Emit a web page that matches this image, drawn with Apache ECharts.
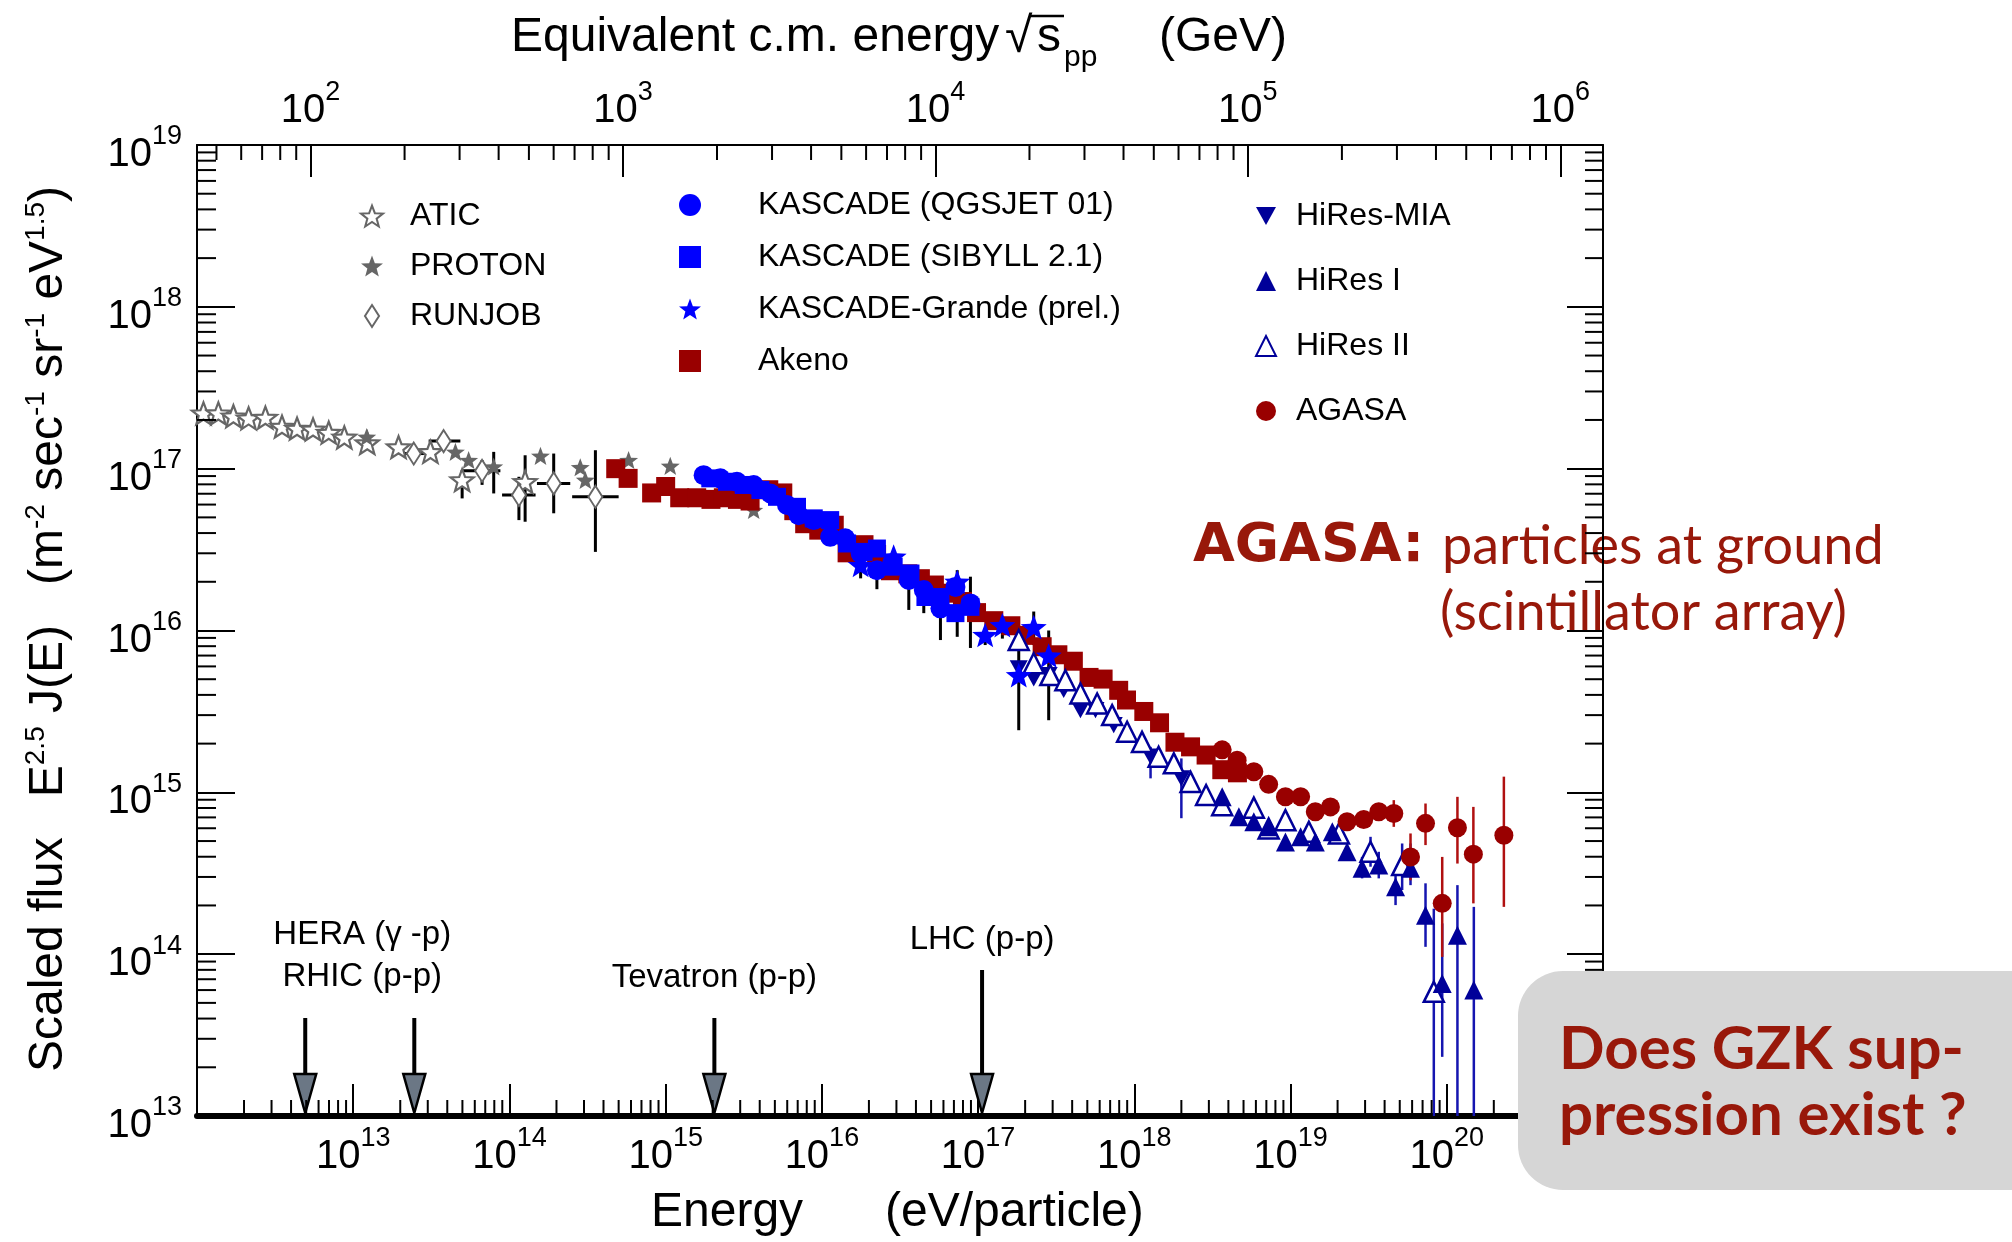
<!DOCTYPE html>
<html><head><meta charset="utf-8">
<script src="https://cdn.jsdelivr.net/npm/echarts@6/dist/echarts.min.js"></script>
<style>html,body{margin:0;padding:0;background:#fff}#c{width:2012px;height:1242px}</style>
</head><body><div id="c"></div>
<script>
// ---------------- data (energy in eV, scaled flux E^2.5 J(E)) ----------------
const atic = [[1.10e12,2.20e17],[1.37e12,2.20e17],[1.71e12,2.11e17],[2.14e12,2.05e17],[2.74e12,2.07e17],[3.50e12,1.82e17],[4.37e12,1.77e17],[5.53e12,1.75e17],[6.97e12,1.67e17],[8.77e12,1.56e17],[1.23e13,1.44e17],[1.95e13,1.36e17],[3.12e13,1.27e17],[4.98e13,8.51e16],[1.26e14,8.30e16]];
const aticErr = [[4.98e13,6.55e16,9.80e16],[1.26e14,4.70e16,1.21e17]];
const proton = [[1.22e13,1.57e17],[4.51e13,1.27e17],[5.48e13,1.13e17],[7.93e13,1.03e17],[1.58e14,1.20e17],[2.84e14,1.02e17],[3.06e14,8.51e16],[5.79e14,1.13e17],[1.07e15,1.04e17],[3.66e15,5.55e16]];
const protonErr = [[7.93e13,7.03e16,1.27e17]];
const runjob = [[2.44e13,1.24e17],[3.79e13,1.48e17],[6.68e13,9.70e16],[1.15e14,6.87e16],[1.92e14,8.11e16],[3.55e14,6.70e16]];
const runjobYErr = [[6.68e13,7.94e16,1.13e17],[1.15e14,4.81e16,8.91e16],[1.92e14,5.30e16,1.24e17],[3.55e14,3.06e16,1.30e17]];
const runjobXErr = [[1.24e17,1.95e13,3.04e13],[1.48e17,3.04e13,4.85e13],[9.70e16,4.98e13,8.75e13],[6.87e16,8.97e13,1.47e14],[8.11e16,1.50e14,2.45e14],[6.70e16,2.52e14,5.00e14]];
const kascadeQGS = [[1.75e15,9.12e16],[2.24e15,8.71e16],[2.86e15,8.30e16],[3.66e15,7.93e16],[4.68e15,7.03e16],[5.98e15,5.96e16],[7.10e15,5.16e16],[8.87e15,4.81e16],[1.13e16,3.79e16],[1.41e16,3.71e16],[1.77e16,2.99e16],[2.25e16,2.36e16],[2.81e16,2.60e16],[3.60e16,2.05e16],[4.49e16,1.78e16],[5.74e16,1.37e16],[7.16e16,1.86e16],[8.93e16,1.47e16]];
const kascadeSIB = [[1.93e15,8.71e16],[2.47e15,8.30e16],[3.16e15,7.93e16],[4.04e15,7.38e16],[5.16e15,6.70e16],[6.93e15,5.81e16],[8.87e15,4.93e16],[1.13e16,4.81e16],[1.45e16,3.45e16],[1.85e16,3.06e16],[2.25e16,3.21e16],[2.88e16,2.48e16],[3.69e16,2.25e16],[4.60e16,1.61e16],[5.74e16,1.61e16],[7.16e16,1.28e16],[8.93e16,1.40e16]];
const kascadeErr = [[2.25e16,1.80e16,2.95e16],[3.60e16,1.34e16,2.54e16],[4.49e16,1.28e16,2.25e16],[5.74e16,8.73e15,1.54e16],[8.93e16,7.80e15,2.15e16]];
const grande = [[1.77e16,2.54e16],[2.88e16,2.86e16],[7.35e16,2.00e16],[1.11e17,9.38e15],[1.43e17,1.08e16],[1.82e17,5.30e15],[2.27e17,1.05e16],[2.83e17,7.00e15]];
const grandeErr = [[1.77e16,2.10e16,2.86e16],[2.88e16,2.11e16,2.92e16],[7.35e16,9.14e15,2.36e16],[1.11e17,8.13e15,9.77e15],[1.43e17,8.91e15,1.20e16],[1.82e17,2.42e15,9.77e15],[2.27e17,8.13e15,1.31e16],[2.83e17,2.79e15,1.00e16]];
const akeno = [[4.79e14,1.00e17],[5.75e14,8.71e16],[8.13e14,7.08e16],[1.00e15,7.76e16],[1.23e15,6.61e16],[1.58e15,6.61e16],[1.95e15,6.46e16],[2.34e15,6.61e16],[2.88e15,6.46e16],[3.47e15,6.31e16],[4.57e15,7.41e16],[5.62e15,7.08e16],[6.61e15,5.50e16],[7.76e15,4.57e16],[9.55e15,4.17e16],[1.20e16,4.47e16],[1.45e16,3.02e16],[1.86e16,3.39e16],[2.24e16,2.95e16],[2.75e16,2.34e16],[3.55e16,2.24e16],[4.27e16,2.09e16],[5.25e16,1.91e16],[6.46e16,1.70e16],[7.94e16,1.51e16],[9.77e16,1.29e16],[1.26e17,1.15e16],[1.62e17,1.07e16],[2.00e17,9.33e15],[2.57e17,7.94e15],[3.24e17,7.08e15],[4.07e17,6.46e15],[5.13e17,5.13e15],[6.31e17,5.01e15],[7.94e17,4.27e15],[8.91e17,3.72e15],[1.15e18,3.16e15],[1.45e18,2.69e15],[1.82e18,2.04e15],[2.29e18,1.91e15],[2.88e18,1.70e15],[3.63e18,1.38e15],[4.57e18,1.32e15]];
const hiresMIA = [[1.82e17,5.83e15],[2.27e17,5.06e15],[2.83e17,5.30e15],[3.53e17,4.29e15],[4.52e17,3.22e15],[5.64e17,3.22e15],[7.38e17,2.60e15],[1.27e18,1.66e15],[2.00e18,1.22e15]];
const hiresMIAErr = [[1.27e18,1.22e15,1.91e15],[2.00e18,6.92e14,1.62e15]];
const hires1 = [[3.65e18,9.40e14],[4.67e18,7.06e14],[5.82e18,6.58e14],[7.24e18,6.12e14],[9.27e18,4.94e14],[1.16e19,5.31e14],[1.44e19,4.94e14],[1.85e19,5.70e14],[2.30e19,4.29e14],[2.87e19,3.39e14],[3.67e19,3.55e14],[4.70e19,2.61e14],[5.86e19,3.39e14],[7.31e19,1.74e14],[9.35e19,6.59e13],[1.17e20,1.31e14],[1.49e20,6.00e13]];
const hires1Err = [[2.87e19,2.94e14,3.99e14],[3.67e19,2.94e14,4.29e14],[4.70e19,2.01e14,3.15e14],[5.86e19,2.67e14,4.83e14],[7.31e19,1.11e14,2.74e14],[9.35e19,2.32e13,1.55e14],[1.17e20,1.0e13,2.67e14],[1.49e20,1.0e13,1.96e14]];
const hires2 = [[1.82e17,8.73e15],[2.27e17,6.27e15],[2.90e17,5.30e15],[3.62e17,4.93e15],[4.52e17,4.08e15],[5.78e17,3.54e15],[7.21e17,3.00e15],[8.99e17,2.37e15],[1.12e18,2.05e15],[1.43e18,1.66e15],[1.79e18,1.51e15],[2.29e18,1.16e15],[2.88e18,9.62e14],[3.65e18,8.32e14],[5.82e18,8.04e14],[7.24e18,5.98e14],[9.27e18,6.73e14],[1.31e19,5.70e14],[2.04e19,5.57e14],[3.25e19,4.29e14],[5.18e19,3.55e14],[8.26e19,5.85e13]];
const hires2Err = [[3.25e19,3.47e14,5.31e14],[5.18e19,2.49e14,4.83e14],[8.26e19,1.0e13,1.91e14]];
const agasa = [[3.65e18,1.83e15],[4.55e18,1.58e15],[5.82e18,1.34e15],[7.24e18,1.12e15],[9.27e18,9.38e14],[1.16e19,9.38e14],[1.44e19,7.59e14],[1.80e19,8.13e14],[2.30e19,6.58e14],[2.94e19,6.79e14],[3.67e19,7.59e14],[4.58e19,7.40e14],[5.86e19,3.99e14],[7.31e19,6.43e14],[9.35e19,2.06e14],[1.17e20,6.04e14],[1.48e20,4.15e14],[2.32e20,5.43e14]];
const agasaErr = [[4.58e19,6.12e14,8.95e14],[5.86e19,2.86e14,5.57e14],[7.31e19,4.72e14,8.53e14],[9.35e19,9.62e13,3.99e14],[1.17e20,3.63e14,9.38e14],[1.48e20,2.06e14,8.13e14],[2.32e20,1.96e14,1.25e15]];
const accelNames = ['HERA (\u03b3 -p)', 'RHIC (p-p)', 'Tevatron (p-p)', 'LHC (p-p)'];
const accelEnergy = [4.93e12, 2.46e13, 2.05e15, 1.06e17];
// ---------------- axis constants ----------------
const E_MIN = 1e12, E_MAX = 1e21, F_MIN = 1e13, F_MAX = 1e19;
const MP = 0.938272; // GeV
const sqrtS = E => Math.sqrt(2 * MP * E / 1e9);

function minorVals(lo, hi) { const out = []; for (let e = Math.floor(Math.log10(lo)); e <= Math.ceil(Math.log10(hi)); e++) for (let m = 2; m <= 9; m++) { const v = m * Math.pow(10, e); if (v > lo && v < hi) out.push(v); } return out; }
const xMinor = minorVals(E_MIN, E_MAX), yMinor = minorVals(F_MIN, F_MAX), topMinor = minorVals(sqrtS(E_MIN), sqrtS(E_MAX));

const SANS = '"Liberation Sans", Arial, sans-serif';
const NARROW = '"Liberation Sans Narrow", "Liberation Sans", sans-serif';
const RED = '#98180a', DRED = '#990000', NAVY = '#000099', BLUE = '#0000ff', GRAY = '#666666';
const STAR = 'path://M50,0 L62.35,33 L97.55,34.55 L69.95,56.5 L79.4,90.45 L50,71 L20.6,90.45 L30.05,56.5 L2.45,34.55 L37.65,33 Z';
const DOWN_TRI = 'path://M0,0 L100,0 L50,90 Z';
const TALL_DIAMOND = 'path://M32,0 L64,50 L32,100 L0,50 Z';

const tickRich = {
  b: { fontSize: 40, fontFamily: NARROW, color: '#000', padding: [20, 0, 0, 0] },
  s: { fontSize: 27, fontFamily: NARROW, color: '#000', padding: [0, 0, 16, 0] }
};
const pow10 = v => '{b|10}{s|' + Math.round(Math.log10(v)) + '}';
const pow10Inner = v => { const e = Math.round(Math.log10(v)); return (e <= 12 || e >= 21) ? '' : pow10(v); };

function tickSeries(data, xIdx, d) {
  return { type: 'custom', coordinateSystem: 'cartesian2d', xAxisIndex: xIdx, yAxisIndex: 0, silent: true, z: 6, data,
    renderItem: (p, api) => { const a = api.coord([api.value(0), api.value(1)]);
      return { type: 'line', shape: { x1: a[0], y1: a[1], x2: a[0] + d[0], y2: a[1] + d[1] }, style: { stroke: '#000', lineWidth: 2 } }; } };
}
function vErr(data, color, w) {
  return { type: 'custom', silent: true, z: 1, data, encode: { x: 0, y: [1, 2] },
    renderItem: (p, api) => { const a = api.coord([api.value(0), api.value(1)]), b = api.coord([api.value(0), api.value(2)]);
      return { type: 'line', shape: { x1: a[0], y1: a[1], x2: b[0], y2: b[1] }, style: { stroke: color, lineWidth: w } }; } };
}
function hErr(data, color, w) {
  return { type: 'custom', silent: true, z: 1, data, encode: { x: [1, 2], y: 0 },
    renderItem: (p, api) => { const a = api.coord([api.value(1), api.value(0)]), b = api.coord([api.value(2), api.value(0)]);
      return { type: 'line', shape: { x1: a[0], y1: a[1], x2: b[0], y2: b[1] }, style: { stroke: color, lineWidth: w } }; } };
}
function sc(name, data, symbol, size, itemStyle, extra) {
  return Object.assign({ name, type: 'scatter', data, symbol, symbolSize: size, symbolKeepAspect: true,
    itemStyle: Object.assign({ opacity: 1 }, itemStyle), z: 3, silent: true }, extra || {});
}
const accelLayout = [
  { shaft: 98, ldx: 57, ldy: -181 },
  { shaft: 98, ldx: -52, ldy: -139 },
  { shaft: 98, ldx: 0, ldy: -138 },
  { shaft: 146, ldx: 0, ldy: -176 }
];
const legendText = pad => ({ fontSize: 32, fontFamily: SANS, color: '#000', padding: [0, 0, 0, pad] });

const option = {
  animation: false,
  backgroundColor: '#fff',
  textStyle: { fontFamily: SANS },
  grid: { left: 197, top: 145, width: 1406, height: 971, containLabel: false },
  xAxis: [
    { type: 'log', logBase: 10, min: E_MIN, max: E_MAX, position: 'bottom',
      axisLine: { onZero: false, lineStyle: { color: '#000', width: 6 } },
      axisTick: { inside: true, length: 32, lineStyle: { color: '#000', width: 2 } },
      axisLabel: { margin: 1, formatter: pow10Inner, rich: tickRich, showMinLabel: false, showMaxLabel: false },
      splitLine: { show: false } },
    { type: 'log', logBase: 10, min: sqrtS(E_MIN), max: sqrtS(E_MAX), position: 'top',
      axisLine: { onZero: false, lineStyle: { color: '#000', width: 2 } },
      axisTick: { inside: true, length: 32, lineStyle: { color: '#000', width: 2 } },
      axisLabel: { margin: 14, formatter: pow10, rich: tickRich, showMinLabel: false, showMaxLabel: false },
      splitLine: { show: false } }
  ],
  yAxis: [
    { type: 'log', logBase: 10, min: F_MIN, max: F_MAX, position: 'left',
      axisLine: { onZero: false, lineStyle: { color: '#000', width: 2 } },
      axisTick: { inside: true, length: 38, lineStyle: { color: '#000', width: 2 } },
      axisLabel: { margin: 15, formatter: pow10, rich: tickRich },
      splitLine: { show: false } },
    { type: 'log', logBase: 10, min: F_MIN, max: F_MAX, position: 'right',
      axisLine: { onZero: false, lineStyle: { color: '#000', width: 2 } },
      axisTick: { inside: true, length: 36, lineStyle: { color: '#000', width: 2 } },
      axisLabel: { show: false }, splitLine: { show: false } }
  ],
  legend: [
    { data: ['ATIC', 'PROTON', { name: 'RUNJOB', icon: TALL_DIAMOND }], orient: 'vertical', left: 360, top: 200, padding: 0,
      itemWidth: 22, itemHeight: 22, itemGap: 18, selectedMode: false, textStyle: legendText(22) },
    { data: ['KASCADE (QGSJET 01)', 'KASCADE (SIBYLL 2.1)', 'KASCADE-Grande (prel.)', 'Akeno'], orient: 'vertical', left: 679, top: 189, padding: 0,
      itemWidth: 22, itemHeight: 22, itemGap: 20, selectedMode: false, textStyle: legendText(52) },
    { data: [{ name: 'HiRes-MIA', icon: DOWN_TRI }, 'HiRes I', 'HiRes II', 'AGASA'], orient: 'vertical', left: 1255, top: 200, padding: 0,
      itemWidth: 20, itemHeight: 20, itemGap: 33, selectedMode: false, textStyle: legendText(15) }
  ],
  series: [
    tickSeries(xMinor.map(v => [v, F_MIN]), 0, [0, -16]),
    tickSeries(topMinor.map(v => [v, F_MAX]), 1, [0, 15]),
    tickSeries(yMinor.map(v => [E_MIN, v]), 0, [19, 0]),
    tickSeries(yMinor.map(v => [E_MAX, v]), 0, [-18, 0]),
    vErr(aticErr, '#000', 3), vErr(protonErr, '#000', 3), vErr(runjobYErr, '#000', 3), hErr(runjobXErr, '#000', 3),
    vErr(kascadeErr, '#000', 3), vErr(grandeErr, '#000', 3),
    vErr(hiresMIAErr, '#1515b0', 2.5), vErr(hires1Err, '#1515b0', 2.5), vErr(hires2Err, '#1515b0', 2.5),
    vErr(agasaErr, '#b01010', 2.5),
    sc('ATIC', atic, STAR, 23, { color: '#fff', borderColor: GRAY, borderWidth: 2.2 }),
    sc('PROTON', proton, STAR, 19, { color: GRAY }),
    sc('RUNJOB', runjob, 'diamond', [14, 22], { color: '#fff', borderColor: GRAY, borderWidth: 2 }, { symbolKeepAspect: false }),
    sc('Akeno', akeno, 'rect', 19, { color: DRED }),
    sc('HiRes-MIA', hiresMIA, DOWN_TRI, 18, { color: NAVY }),
    sc('HiRes II', hires2, 'triangle', 20, { color: '#fff', borderColor: NAVY, borderWidth: 2.5 }),
    sc('HiRes I', hires1, 'triangle', 19, { color: NAVY }),
    sc('AGASA', agasa, 'circle', 19, { color: DRED }),
    sc('KASCADE (SIBYLL 2.1)', kascadeSIB, 'rect', 18, { color: BLUE }),
    sc('KASCADE (QGSJET 01)', kascadeQGS, 'circle', 20, { color: BLUE }),
    sc('KASCADE-Grande (prel.)', grande, STAR, 26, { color: BLUE }),
    { type: 'custom', silent: true, z: 5, data: accelEnergy.map(e => [e, F_MIN]),
      renderItem: (p, api) => {
        const b = api.coord([api.value(0), F_MIN]); const L = accelLayout[p.dataIndex];
        const x = b[0], y = b[1], hh = 42, hw = 11;
        return { type: 'group', children: [
          { type: 'line', shape: { x1: x, y1: y - L.shaft, x2: x, y2: y - hh }, style: { stroke: '#000', lineWidth: 4 } },
          { type: 'polygon', shape: { points: [[x - hw, y - hh], [x + hw, y - hh], [x, y - 3]] }, style: { fill: '#6b7785', stroke: '#000', lineWidth: 2.5 } },
          { type: 'text', x: x + L.ldx, y: y + L.ldy, style: { text: accelNames[p.dataIndex], fill: '#000', fontSize: 33, fontFamily: SANS, align: 'center', verticalAlign: 'middle' } }
        ] };
      } }
  ],
  graphic: [
    { type: 'text', x: 511, y: 38, style: { text: 'Equivalent c.m. energy', fontSize: 48, fontFamily: SANS, fill: '#000', align: 'left', verticalAlign: 'middle' } },
    { type: 'text', x: 1005, y: 38, style: { text: '\u221a', fontSize: 50, fontFamily: SANS, fill: '#000', align: 'left', verticalAlign: 'middle' } },
    { type: 'line', shape: { x1: 1029, y1: 16, x2: 1064, y2: 16 }, style: { stroke: '#000', lineWidth: 2.5 } },
    { type: 'text', x: 1037, y: 38, style: { text: 's', fontSize: 48, fontFamily: SANS, fill: '#000', align: 'left', verticalAlign: 'middle' } },
    { type: 'text', x: 1064, y: 58, style: { text: 'pp', fontSize: 30, fontFamily: SANS, fill: '#000', align: 'left', verticalAlign: 'middle' } },
    { type: 'text', x: 1159, y: 38, style: { text: '(GeV)', fontSize: 48, fontFamily: SANS, fill: '#000', align: 'left', verticalAlign: 'middle' } },
    { type: 'text', x: 651, y: 1213, style: { text: 'Energy', fontSize: 48, fontFamily: SANS, fill: '#000', align: 'left', verticalAlign: 'middle' } },
    { type: 'text', x: 885, y: 1213, style: { text: '(eV/particle)', fontSize: 48, fontFamily: SANS, fill: '#000', align: 'left', verticalAlign: 'middle' } },
    { type: 'text', x: 49, y: 629, rotation: Math.PI / 2, style: {
        text: 'Scaled flux   E{sup|2.5} J(E)   (m{sup|-2} sec{sup|-1} sr{sup|-1} eV{sup|1.5})',
        fontSize: 48, fontFamily: SANS, fill: '#000', align: 'center', verticalAlign: 'middle',
        rich: { sup: { fontSize: 28, fontFamily: SANS, fill: '#000', padding: [0, 0, 26, 0] } } } },
    { type: 'text', x: 1193, y: 547, style: { text: 'AGASA:', fontSize: 54, fontWeight: 'bold', fontFamily: '"DejaVu Sans"', fill: RED, align: 'left', verticalAlign: 'middle' } },
    { type: 'text', x: 1442, y: 547, style: { text: 'particles at ground', fontSize: 54, fontFamily: 'Lato', fill: RED, align: 'left', verticalAlign: 'middle' } },
    { type: 'text', x: 1440, y: 613, style: { text: '(scintillator array)', fontSize: 54, fontFamily: 'Lato', fill: RED, align: 'left', verticalAlign: 'middle' } },
    { type: 'rect', z: 100, shape: { x: 1518, y: 971, width: 560, height: 219, r: 45 }, style: { fill: '#d6d6d6' } },
    { type: 'text', z: 101, x: 1559, y: 1050, style: { text: 'Does GZK sup-', fontSize: 60, fontWeight: 'bold', fontFamily: 'Lato', fill: RED, align: 'left', verticalAlign: 'middle' } },
    { type: 'text', z: 101, x: 1559, y: 1116, style: { text: 'pression exist ?', fontSize: 60, fontWeight: 'bold', fontFamily: 'Lato', fill: RED, align: 'left', verticalAlign: 'middle' } }
  ]
};
const chart = echarts.init(document.getElementById('c'), null, { renderer: 'canvas' });
chart.setOption(option);
</script></body></html>
